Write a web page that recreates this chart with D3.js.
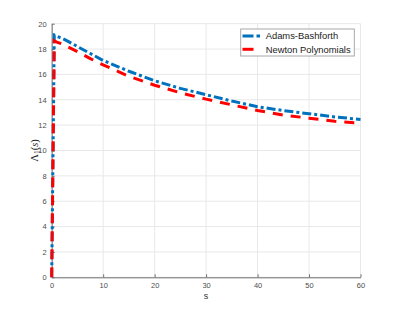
<!DOCTYPE html>
<html>
<head>
<meta charset="utf-8">
<script src="https://cdn.jsdelivr.net/npm/d3@7"></script>
<style>
  body { margin: 0; background: #fff; }
  text { font-family: "Liberation Sans", Arial, sans-serif; }
</style>
</head>
<body>
<div id="chart"></div>
<script>
// values
const sValues = [0, 0.5, 1, 2, 3, 5, 7.5, 10, 15, 20, 25, 30, 35, 40, 45, 50, 55, 60];
const adamsBashforth = [0, 19.1, 19.0, 18.85, 18.65, 18.2, 17.65, 17.1, 16.25, 15.5, 14.9, 14.4, 13.9, 13.45, 13.15, 12.9, 12.65, 12.45];
const newtonPoly = [0, 18.65, 18.55, 18.4, 18.2, 17.8, 17.25, 16.75, 15.85, 15.15, 14.55, 14.05, 13.6, 13.15, 12.8, 12.55, 12.3, 12.15];
const xTicks = [0, 10, 20, 30, 40, 50, 60];
const yTicks = [0, 2, 4, 6, 8, 10, 12, 14, 16, 18, 20];
const seriesNames = ['Adams-Bashforth', 'Newton Polynomials'];

const width = 399, height = 312;
const plotLeft = 51.7, plotRight = 360.5, plotTop = 23.7, plotBottom = 277.3;

const svg = d3.select('#chart')
              .append('svg')
              .attr('width', width)
              .attr('height', height);

let scaleX = d3.scaleLinear().domain([0, 60]).range([plotLeft, plotRight]);
let scaleY = d3.scaleLinear().domain([0, 20]).range([plotBottom, plotTop]);

// grid
svg.append('g').selectAll('line')
   .data(xTicks).enter().append('line')
   .attr('x1', d => scaleX(d)).attr('x2', d => scaleX(d))
   .attr('y1', plotTop).attr('y2', plotBottom)
   .style('stroke', '#e8e8e8').style('stroke-width', 1);
svg.append('g').selectAll('line')
   .data(yTicks).enter().append('line')
   .attr('x1', plotLeft).attr('x2', plotRight)
   .attr('y1', d => scaleY(d)).attr('y2', d => scaleY(d))
   .style('stroke', '#e8e8e8').style('stroke-width', 1);

// axes (ticks inward like matlab)
let xAxis = d3.axisBottom(scaleX).tickValues(xTicks).tickSizeInner(-3).tickSizeOuter(0).tickPadding(5);
let yAxis = d3.axisLeft(scaleY).tickValues(yTicks).tickSizeInner(-3).tickSizeOuter(0).tickPadding(5);

let xAxisGroup = svg.append('g')
                    .attr('transform', 'translate(0,' + plotBottom + ')')
                    .call(xAxis);
let yAxisGroup = svg.append('g')
                    .attr('transform', 'translate(' + plotLeft + ',0)')
                    .call(yAxis);

[xAxisGroup, yAxisGroup].forEach(g => {
  g.select('.domain').style('stroke', '#707070');
  g.selectAll('.tick line').style('stroke', '#707070');
  g.selectAll('.tick text')
   .style('fill', '#4d4d4d')
   .style('font-size', '7.5px')
   .style('font-family', '"Liberation Sans", Arial, sans-serif');
});

// lines
let line = d3.line().x((d, i) => scaleX(sValues[i])).y(d => scaleY(d));

svg.append('path')
   .datum(adamsBashforth)
   .attr('d', line)
   .style('fill', 'none')
   .style('stroke', '#0072BD')
   .style('stroke-width', 3)
   .style('stroke-dasharray', '9,3,3,3');

svg.append('path')
   .datum(newtonPoly)
   .attr('d', line)
   .style('fill', 'none')
   .style('stroke', '#FF0000')
   .style('stroke-width', 3)
   .style('stroke-dasharray', '10,8');

// labels
svg.append('text')
   .attr('x', (plotLeft + plotRight) / 2)
   .attr('y', 299)
   .style('text-anchor', 'middle')
   .style('font-size', '9px')
   .style('fill', '#333')
   .text('s');

let yLabel = svg.append('text')
   .attr('transform', 'translate(37.5,' + ((plotTop + plotBottom) / 2) + ') rotate(-90)')
   .style('text-anchor', 'middle')
   .style('font-family', '"Liberation Serif", "DejaVu Serif", serif')
   .style('font-size', '10.5px')
   .style('fill', '#222');
yLabel.append('tspan').text('Λ');
yLabel.append('tspan').attr('dy', 2.5).style('font-size', '7.5px').text('1');
yLabel.append('tspan').attr('dy', -2.5).text('(');
yLabel.append('tspan').style('font-style', 'italic').text('s');
yLabel.append('tspan').text(')');

// legend
const legend = svg.append('g');
legend.append('rect')
      .attr('x', 240.7).attr('y', 29)
      .attr('width', 113.6).attr('height', 27)
      .style('fill', '#fff')
      .style('stroke', '#a8a8a8')
      .style('stroke-width', 1);

const legendColors = ['#0072BD', '#FF0000'];
const legendDash = ['11,3,4,3', '11,8'];
seriesNames.forEach((name, i) => {
  const yy = 36 + i * 13.3;
  legend.append('line')
        .attr('x1', 242.5).attr('x2', 260)
        .attr('y1', yy).attr('y2', yy)
        .style('stroke', legendColors[i])
        .style('stroke-width', 3)
        .style('stroke-dasharray', legendDash[i]);
  legend.append('text')
        .attr('x', 265.7).attr('y', yy + 3.3)
        .style('font-size', '9.4px')
        .style('fill', '#222')
        .text(name);
});
</script>
</body>
</html>
